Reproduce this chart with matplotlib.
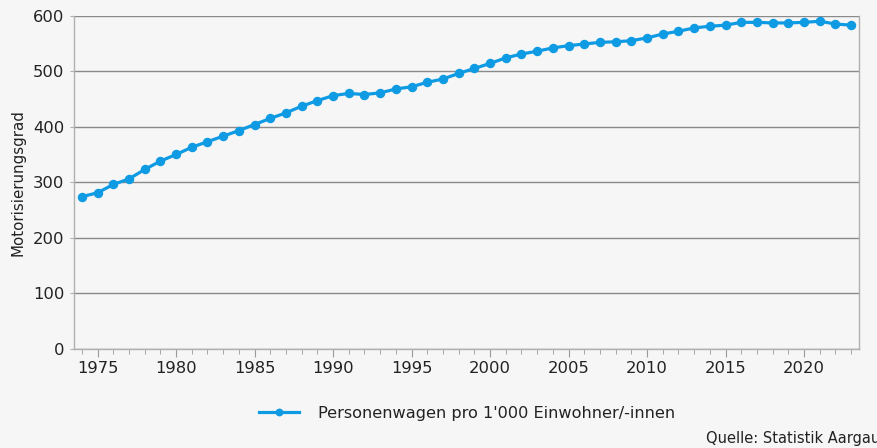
import numpy as np
import matplotlib.pyplot as plt
from matplotlib.ticker import MultipleLocator

years = np.arange(1974, 2024)
motorisierung = [274, 281, 296, 306, 323, 338, 350, 363, 373, 383,
                 393, 404, 415, 425, 437, 447, 456, 460, 458, 461,
                 468, 472, 480, 486, 496, 505, 514, 524, 531, 536,
                 542, 546, 549, 552, 553, 555, 560, 567, 572, 578,
                 581, 583, 588, 588, 587, 587, 588, 590, 585, 583]
series_label = "Personenwagen pro 1'000 Einwohner/-innen"
source_text = "Quelle: Statistik Aargau"

plt.rcParams['font.family'] = ['DejaVu Sans']
bg = '#f6f6f6'
blue = '#0f9be3'
txt = '#222222'

fig = plt.figure(figsize=(8.78, 4.48), dpi=100, facecolor=bg)
ax = fig.add_axes([74 / 878, 1 - 348.8 / 448, 785 / 878, 333.1 / 448])
ax.set_facecolor(bg)

ax.plot(years, motorisierung, color=blue, lw=2.3, marker='o', ms=5.8, label=series_label, zorder=3)

ax.set_xlim(1973.5, 2023.5)
ax.set_ylim(0, 600)
ax.yaxis.set_major_locator(MultipleLocator(100))
ax.xaxis.set_major_locator(MultipleLocator(5))
ax.xaxis.set_minor_locator(MultipleLocator(1))

# horizontal grid only
ax.grid(axis='y', color='#8a8a8a', lw=1)
ax.set_axisbelow(True)
for side in ['left', 'bottom', 'right']:
    ax.spines[side].set_color('#b0b0b0')
    ax.spines[side].set_linewidth(1)
ax.spines['top'].set_visible(False)

ax.tick_params(axis='y', length=3, color='#b0b0b0', labelsize=11.8, labelcolor=txt, pad=4)
ax.tick_params(axis='x', which='major', length=6, color='#9a9a9a', labelsize=11.8, labelcolor=txt, pad=3)
ax.tick_params(axis='x', which='minor', length=3.5, color='#9a9a9a')

ax.set_ylabel('Motorisierungsgrad', fontsize=10.8, color=txt, labelpad=5)

leg = ax.legend(loc='center', frameon=False, fontsize=11.6,
                handlelength=2.5, handletextpad=1.2, markerscale=0.8)
leg.set_bbox_to_anchor((467 / 878, 1 - 413 / 448), transform=fig.transFigure)
for t in leg.get_texts():
    t.set_color(txt)

fig.text(706 / 878, 1 - 438 / 448, source_text, fontsize=10.5, color=txt, ha='left', va='center')

fig.savefig('out.png', dpi=100, facecolor=bg)
